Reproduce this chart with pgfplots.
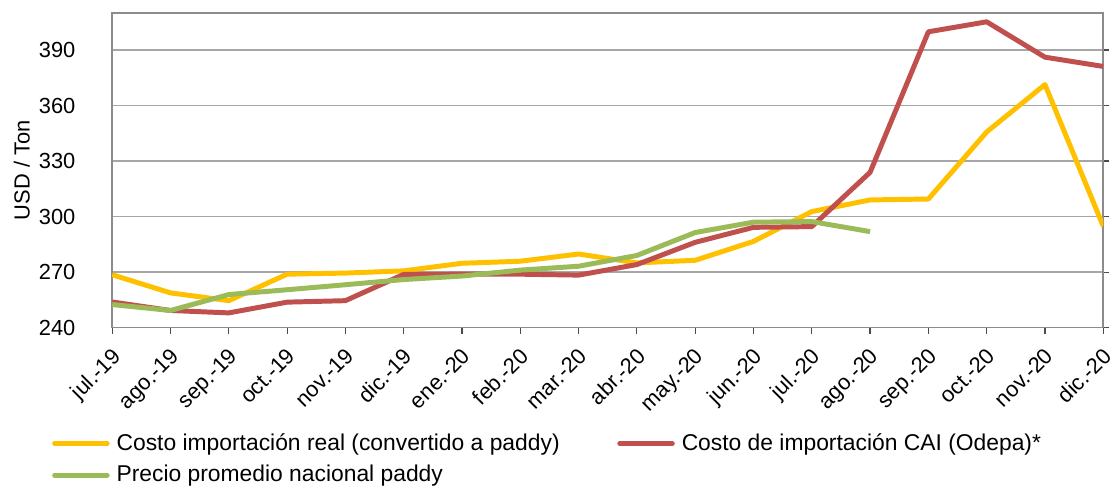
\documentclass[border=0pt]{standalone}
\usepackage{fontspec}
\setmainfont{Liberation Sans}
\usepackage{pgfplots}
\pgfplotsset{compat=1.18}

\definecolor{cyellow}{HTML}{FFC000}
\definecolor{cred}{HTML}{C0504D}
\definecolor{cgreen}{HTML}{9BBB59}

\begin{document}
\begin{tikzpicture}
\begin{axis}[
	name=ax,
	width=499pt, height=158.5pt,
	scale only axis,
	xmin=0, xmax=17,
	ymin=240, ymax=410,
	ytick={240,270,300,330,360,390},
	xtick={0,...,17},
	xticklabels={jul.-19,ago.-19,sep.-19,oct.-19,nov.-19,dic.-19,ene.-20,feb.-20,mar.-20,abr.-20,may.-20,jun.-20,jul.-20,ago.-20,sep.-20,oct.-20,nov.-20,dic.-20},
	x tick label style={rotate=45, anchor=north east, inner sep=1pt, xshift=-4pt, yshift=-3pt},
	yticklabel shift=12pt,
	/pgf/number format/assume math mode=true,
	ticklabel style={font=\fontsize{11}{13}\selectfont},
	tick align=outside,
	xtick pos=bottom,
	ytick pos=right,
	yticklabel pos=left,
	major tick length=3pt,
	tick style={black!70, line width=0.6pt},
	ymajorgrids,
	grid style={gray!70, line width=0.8pt},
	axis line style={gray!90, line width=0.8pt},
	ylabel={USD / Ton},
	ylabel style={font=\fontsize{11}{13}\selectfont, at={(axis description cs:-0.0912,0.5)}, anchor=center},
	legend columns=2,
	legend cell align=left,
	legend style={draw=none, fill=none, at={(-0.067,-0.31)}, anchor=north west,
		font=\fontsize{11.5}{13.5}\selectfont, row sep=2pt,
		/tikz/every odd column/.append style={column sep=1.5pt},
		/tikz/every even column/.append style={column sep=27pt}},
	legend image code/.code={\draw[#1, line width=2.5pt, line cap=round] (0cm,0cm) -- (0.93cm,0cm);},
	every axis plot/.append style={line width=2.5pt, line join=round},
]
\addplot[cyellow] coordinates {(0,268.6) (1,258.8) (2,254.6) (3,268.9) (4,269.5) (5,270.7) (6,274.8) (7,275.9) (8,279.8) (9,275.0) (10,276.4) (11,286.6) (12,302.7) (13,309.0) (14,309.5) (15,345.7) (16,371.3) (17,294.8)};
\addplot[cred] coordinates {(0,253.9) (1,249.3) (2,248.0) (3,253.8) (4,254.6) (5,268.8) (6,268.9) (7,268.9) (8,268.4) (9,274.1) (10,286.1) (11,294.2) (12,294.6) (13,323.9) (14,399.8) (15,405.2) (16,386.1) (17,381.1)};
\addplot[cgreen] coordinates {(0,252.5) (1,249.3) (2,257.9) (3,260.5) (4,263.2) (5,266.0) (6,267.9) (7,271.1) (8,273.2) (9,279.0) (10,291.4) (11,297.0) (12,297.3) (13,291.9)};
\legend{Costo importación real (convertido a paddy), Costo de importación CAI (Odepa)*, Precio promedio nacional paddy}
\end{axis}
\path ([yshift=6.5pt]ax.north) ([xshift=-56.5pt]ax.south west);
\end{tikzpicture}
\end{document}
